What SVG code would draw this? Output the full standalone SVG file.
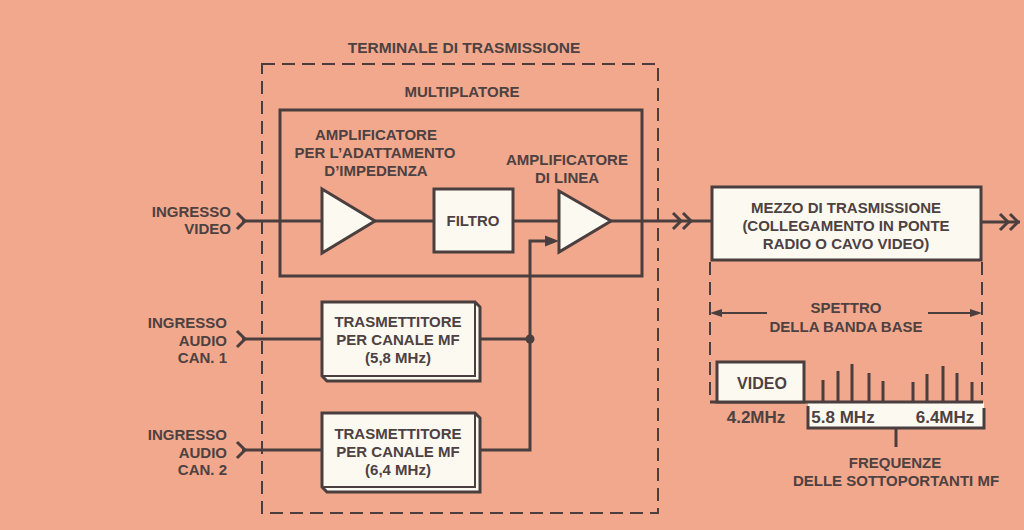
<svg xmlns="http://www.w3.org/2000/svg" width="1024" height="530" viewBox="0 0 1024 530">
<defs>
<style>
text{font-family:"Liberation Sans",Arial,sans-serif;font-weight:bold;font-size:15px;fill:#4d4142;text-anchor:middle}
.r{text-anchor:end}
.big{font-size:17px}
.ln{stroke:#4a3e3f;stroke-width:3;fill:none}
.thin{stroke:#4a3e3f;stroke-width:2;fill:none}
.dash{stroke:#4a3e3f;stroke-width:2;fill:none;stroke-dasharray:13 7}
.box{fill:#fcf9f0;stroke:#4a3e3f;stroke-width:3}
.dk{fill:#4a3e3f}
</style>
</defs>
<rect width="1024" height="530" fill="#f1a88c"/>

<g id="terminale">
<rect x="262" y="64" width="396" height="449" class="dash"/>
<text x="464" y="53" style="font-size:15.5px">TERMINALE DI TRASMISSIONE</text>
</g>

<g id="multiplatore">
<rect x="280" y="110" width="362" height="166" class="ln"/>
<text x="462" y="97">MULTIPLATORE</text>
</g>

<g id="connectors">
<!-- video input -->
<polyline points="237,213 245,221 237,229" class="ln"/>
<line x1="242" y1="221" x2="322" y2="221" class="ln"/>
<line x1="375" y1="221" x2="434" y2="221" class="ln"/>
<line x1="513" y1="221" x2="559" y2="221" class="ln"/>
<line x1="611" y1="221" x2="712" y2="221" class="ln"/>
<polyline points="673,213 681,221 673,229" class="ln"/>
<polyline points="683,213 691,221 683,229" class="ln"/>
<!-- output -->
<line x1="981" y1="222" x2="1020" y2="222" class="ln"/>
<polyline points="1000,214 1008,222 1000,230" class="ln"/>
<polyline points="1010,214 1018,222 1010,230" class="ln"/>
<!-- audio 1 -->
<polyline points="237,331 245,339 237,347" class="ln"/>
<line x1="242" y1="339" x2="322" y2="339" class="ln"/>
<line x1="480" y1="339" x2="530" y2="339" class="ln"/>
<!-- audio 2 -->
<polyline points="237,442 245,450 237,458" class="ln"/>
<line x1="242" y1="450" x2="322" y2="450" class="ln"/>
<polyline points="480,450 530,450 530,241 547,241" class="ln"/>
<polygon points="545,235.5 559,241 545,246.5" class="dk"/>
<circle cx="530" cy="339" r="4.5" class="dk"/>
</g>

<g id="amp1">
<polygon points="322,189 375,221 322,253" class="box" stroke-width="2.5"/>
<text x="376" y="140">AMPLIFICATORE</text>
<text x="375" y="158">PER L’ADATTAMENTO</text>
<text x="376" y="176">D’IMPEDENZA</text>
</g>

<g id="filtro">
<rect x="434" y="189" width="79" height="63" class="box"/>
<text x="473" y="226">FILTRO</text>
</g>

<g id="amp2">
<polygon points="559,191 611,221 559,252" class="box" stroke-width="2.5"/>
<text x="567" y="165">AMPLIFICATORE</text>
<text x="567" y="183">DI LINEA</text>
</g>

<g id="in-video">
<text class="r" x="231" y="217">INGRESSO</text>
<text class="r" x="231" y="234">VIDEO</text>
</g>

<g id="in-audio1">
<text class="r" x="227" y="328">INGRESSO</text>
<text class="r" x="227" y="346">AUDIO</text>
<text class="r" x="227" y="363">CAN. 1</text>
</g>

<g id="in-audio2">
<text class="r" x="227" y="440">INGRESSO</text>
<text class="r" x="227" y="458">AUDIO</text>
<text class="r" x="227" y="475">CAN. 2</text>
</g>

<g id="tx1">
<polygon points="322,302 475,302 480,307 480,381 327,381 322,376" class="box" stroke-width="2.5"/>
<polyline points="475,302 475,376 322,376" class="thin" stroke-width="1.5"/>
<text x="398" y="327">TRASMETTITORE</text>
<text x="398" y="345">PER CANALE MF</text>
<text x="398" y="363">(5,8 MHz)</text>
</g>

<g id="tx2">
<polygon points="322,413 475,413 480,418 480,492 327,492 322,487" class="box" stroke-width="2.5"/>
<polyline points="475,413 475,487 322,487" class="thin" stroke-width="1.5"/>
<text x="398" y="439">TRASMETTITORE</text>
<text x="398" y="457">PER CANALE MF</text>
<text x="398" y="475">(6,4 MHz)</text>
</g>

<g id="mezzo">
<rect x="712" y="187" width="269" height="73" class="box"/>
<text x="846" y="213">MEZZO DI TRASMISSIONE</text>
<text x="846" y="231">(COLLEGAMENTO IN PONTE</text>
<text x="846" y="249">RADIO O CAVO VIDEO)</text>
</g>

<g id="spettro">
<line x1="710" y1="262" x2="710" y2="402" class="dash" stroke-dasharray="10 6"/>
<line x1="982" y1="262" x2="982" y2="402" class="dash" stroke-dasharray="10 6"/>
<line x1="716" y1="313" x2="767" y2="313" class="thin"/>
<polygon points="710,313 722,309 722,317" class="dk"/>
<line x1="928" y1="313" x2="976" y2="313" class="thin"/>
<polygon points="982,313 970,309 970,317" class="dk"/>
<text x="846" y="313">SPETTRO</text>
<text x="846" y="332">DELLA BANDA BASE</text>
<rect x="808" y="403" width="176" height="25" fill="#fcf9f0"/>
<polyline points="808,406 808,428 984,428 984,408" class="ln"/>
<line x1="896" y1="428" x2="896" y2="447" class="ln"/>
<line x1="710" y1="402" x2="983" y2="402" class="ln"/>
<rect x="717" y="362" width="87" height="40" class="box" stroke-width="2.5"/>
<text x="762" y="389" style="font-size:16px">VIDEO</text>
<g class="ln">
<line x1="823" y1="402" x2="823" y2="380"/>
<line x1="838" y1="402" x2="838" y2="371"/>
<line x1="852" y1="402" x2="852" y2="364"/>
<line x1="869" y1="402" x2="869" y2="373"/>
<line x1="883" y1="402" x2="883" y2="381"/>
<line x1="913" y1="402" x2="913" y2="382"/>
<line x1="927" y1="402" x2="927" y2="374"/>
<line x1="943" y1="402" x2="943" y2="366"/>
<line x1="957" y1="402" x2="957" y2="373"/>
<line x1="972" y1="402" x2="972" y2="382"/>
</g>
<text class="big" x="756" y="423">4.2MHz</text>
<text class="big" x="843" y="423">5.8 MHz</text>
<text class="big" x="945" y="423">6.4MHz</text>
<text x="895" y="468">FREQUENZE</text>
<text x="896" y="486">DELLE SOTTOPORTANTI MF</text>
</g>
</svg>
